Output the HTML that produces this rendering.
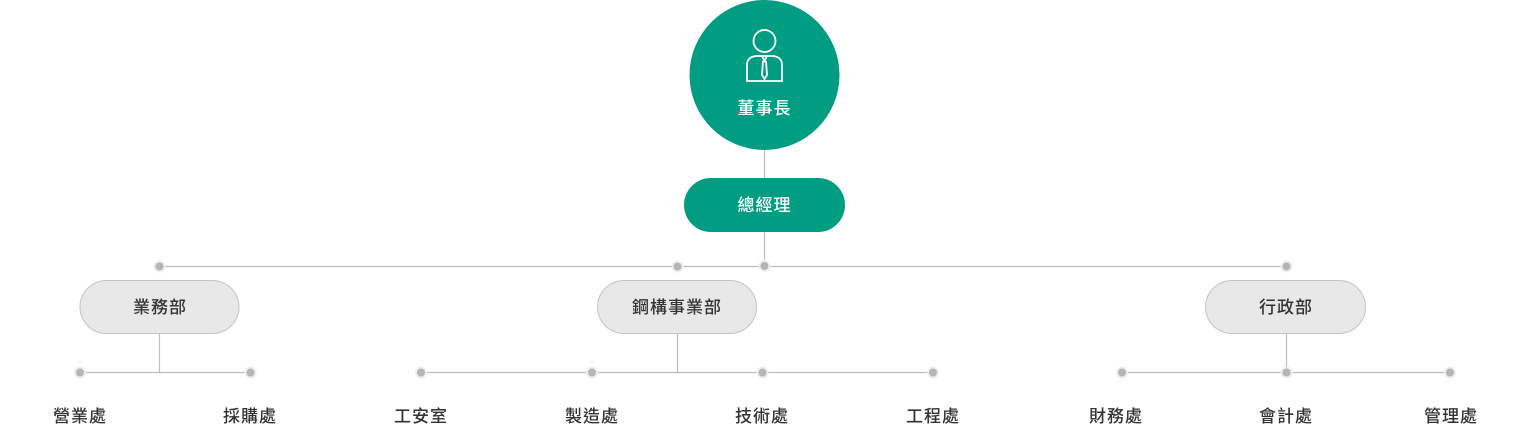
<!DOCTYPE html>
<html><head><meta charset="utf-8"><style>
html,body{margin:0;padding:0;background:#fff;width:1525px;height:443px;overflow:hidden}
svg text{font-family:"Liberation Sans","Noto Sans CJK TC",sans-serif}
</style></head><body>
<svg width="1525" height="443" viewBox="0 0 1525 443" xmlns="http://www.w3.org/2000/svg">
<g stroke="#bdbdbd" stroke-width="1.2" fill="none">
<line x1="764.5" y1="148" x2="764.5" y2="178"/>
<line x1="764.5" y1="232" x2="764.5" y2="266"/>
<line x1="159" y1="266.5" x2="1286" y2="266.5"/>
<line x1="159.5" y1="334" x2="159.5" y2="372"/>
<line x1="677.5" y1="334" x2="677.5" y2="372"/>
<line x1="1286.5" y1="334" x2="1286.5" y2="372"/>
<line x1="80" y1="372.5" x2="250" y2="372.5"/>
<line x1="421" y1="372.5" x2="933" y2="372.5"/>
<line x1="1122" y1="372.5" x2="1450" y2="372.5"/>
</g>
<g fill="#b5b5b5" stroke="#eeeeee" stroke-width="2">
<circle cx="159.5" cy="266.5" r="5"/><circle cx="677.5" cy="266.5" r="5"/><circle cx="764.5" cy="266" r="5"/><circle cx="1286.5" cy="266.5" r="5"/>
<circle cx="80" cy="372.5" r="5"/><circle cx="250.5" cy="372.5" r="5"/>
<circle cx="421" cy="372.5" r="5"/><circle cx="592" cy="372.5" r="5"/><circle cx="762.5" cy="372.5" r="5"/><circle cx="933" cy="372.5" r="5"/>
<circle cx="1122" cy="372.5" r="5"/><circle cx="1286.5" cy="372.5" r="5"/><circle cx="1450" cy="372.5" r="5"/>
</g>
<circle cx="764.5" cy="75" r="75" fill="#019d82"/>
<g stroke="#fff" stroke-width="1.8" fill="none">
<circle cx="764.5" cy="41" r="11"/>
<path d="M747 81 V65 Q747 57 756 56 H773 Q782 57 782 65 V81 Z"/>
<path d="M762 56 L764.5 61 L767 56 M763 61 L762 75 L764.5 79 L767 75 L766 61"/>
</g>
<text x="764.5" y="114" fill="#fff" font-size="17" font-weight="500" text-anchor="middle" letter-spacing="1">董事長</text>
<rect x="684" y="178" width="161" height="54" rx="27" fill="#019d82"/>
<text x="764.5" y="211" fill="#fff" font-size="17" font-weight="500" text-anchor="middle" letter-spacing="1">總經理</text>
<g fill="#e8e8e8" stroke="#c4c4c4" stroke-width="1">
<rect x="80" y="280.5" width="159" height="53" rx="26.5"/>
<rect x="597.5" y="280.5" width="159" height="53" rx="26.5"/>
<rect x="1205.5" y="280.5" width="160" height="53" rx="26.5"/>
</g>
<g fill="#333" font-size="17" font-weight="500" text-anchor="middle" letter-spacing="1">
<text x="160" y="313">業務部</text>
<text x="677" y="313">鋼構事業部</text>
<text x="1286" y="313">行政部</text>
</g>
<g fill="#333" font-size="17" font-weight="500" text-anchor="middle" letter-spacing="1">
<text x="80" y="422">營業處</text><text x="250" y="422">採購處</text>
<text x="421" y="422">工安室</text><text x="592" y="422">製造處</text><text x="762" y="422">技術處</text><text x="933" y="422">工程處</text>
<text x="1116" y="422">財務處</text><text x="1286" y="422">會計處</text><text x="1451" y="422">管理處</text>
</g>
</svg>
</body></html>
